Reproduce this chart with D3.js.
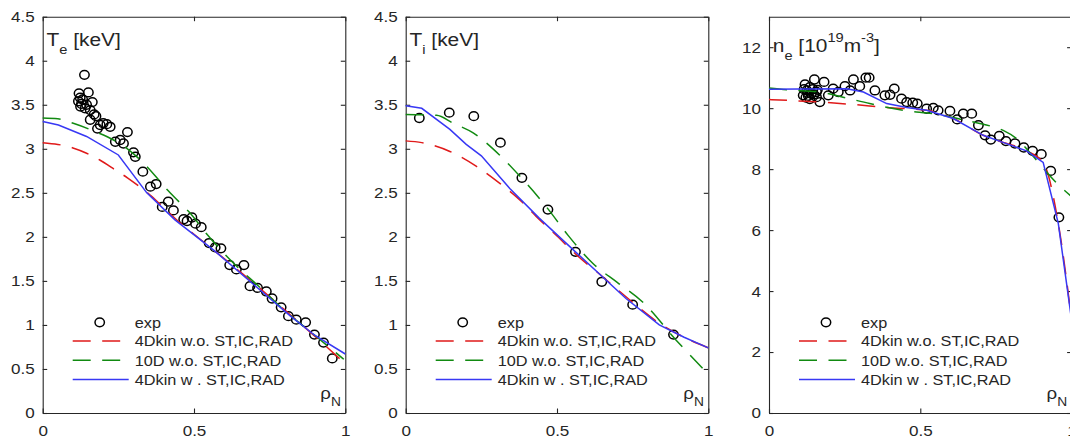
<!DOCTYPE html>
<html>
<head>
<meta charset="utf-8">
<script src="https://cdn.jsdelivr.net/npm/d3@7"></script>
<style>
body { margin: 0; background: #fff; }
svg { display: block; font-family: "Liberation Sans", Arial, sans-serif; }
</style>
</head>
<body>
<div id="chart"></div>
<script>
// ---- DATA ----
// ticks
const rhoTicks = [0, 0.5, 1]
const tempTicks = [0, 0.5, 1, 1.5, 2, 2.5, 3, 3.5, 4, 4.5]
const neTicks = [0, 2, 4, 6, 8, 10, 12]

const legendLabels = ["exp", "4Dkin w.o. ST,IC,RAD", "10D w.o. ST,IC,RAD", "4Dkin w . ST,IC,RAD"]

// Te [keV]: measured points and the three simulations  [rho, value]
const teExp = [[0.138,3.84],[0.120,3.63],[0.151,3.64],[0.124,3.58],[0.118,3.54],[0.132,3.56],[0.164,3.53],
	[0.125,3.48],[0.140,3.46],[0.128,3.51],[0.145,3.50],[0.157,3.44],[0.170,3.39],[0.157,3.33],[0.176,3.37],
	[0.181,3.23],[0.190,3.27],[0.200,3.29],[0.212,3.28],[0.223,3.25],[0.280,3.19],[0.240,3.08],[0.256,3.10],
	[0.267,3.06],[0.300,2.96],[0.306,2.91],[0.331,2.74],[0.356,2.57],[0.375,2.60],[0.395,2.34],[0.415,2.40],
	[0.432,2.30],[0.466,2.20],[0.477,2.18],[0.493,2.22],[0.505,2.15],[0.524,2.11],[0.550,1.93],[0.570,1.88],
	[0.589,1.87],[0.618,1.68],[0.640,1.63],[0.665,1.68],[0.685,1.44],[0.710,1.42],[0.739,1.38],[0.758,1.30],
	[0.788,1.20],[0.812,1.10],[0.838,1.06],[0.869,1.03],[0.898,0.89],[0.928,0.80],[0.957,0.62]]
const te4DkinNoRad = [[0,3.07],[0.05,3.05],[0.10,3.01],[0.145,2.95],[0.19,2.87],[0.24,2.76],[0.28,2.67],
	[0.32,2.57],[0.36,2.46],[0.40,2.33],[0.45,2.17],[0.50,2.03],[0.565,1.85],[0.65,1.61],[0.73,1.38],
	[0.82,1.11],[0.90,0.87],[0.99,0.59]]
const te10DNoRad = [[0,3.35],[0.05,3.34],[0.101,3.29],[0.17,3.20],[0.234,3.10],[0.28,3.00],[0.322,2.875],
	[0.37,2.70],[0.41,2.54],[0.45,2.40],[0.487,2.27],[0.54,2.04],[0.631,1.70],[0.72,1.42],[0.797,1.17],
	[0.90,0.88],[0.995,0.61]]
const te4DkinRad = [[0,3.31],[0.052,3.27],[0.145,3.14],[0.25,2.93],[0.344,2.50],[0.438,2.19],[0.565,1.85],
	[0.70,1.45],[0.819,1.10],[0.90,0.88],[1.0,0.67]]

// Ti [keV]
const tiExp = [[0.045,3.35],[0.144,3.41],[0.225,3.37],[0.313,3.07],[0.384,2.67],[0.470,2.31],[0.561,1.83],
	[0.648,1.49],[0.750,1.23],[0.885,0.89]]
const ti4DkinNoRad = [[0,3.09],[0.053,3.07],[0.146,2.97],[0.234,2.80],[0.31,2.61],[0.377,2.42],[0.432,2.23],
	[0.50,2.01],[0.563,1.80],[0.65,1.55],[0.728,1.32],[0.838,1.02],[0.92,0.86],[1.0,0.74]]
const ti10DNoRad = [[0,3.39],[0.102,3.38],[0.157,3.29],[0.223,3.18],[0.31,2.93],[0.377,2.69],[0.465,2.34],
	[0.536,2.02],[0.618,1.70],[0.70,1.48],[0.783,1.26],[0.893,0.83],[0.992,0.47]]
const ti4DkinRad = [[0,3.49],[0.053,3.46],[0.146,3.22],[0.20,3.05],[0.25,2.92],[0.344,2.55],[0.442,2.21],
	[0.561,1.83],[0.728,1.30],[0.838,1.00],[0.92,0.86],[1.0,0.74]]

// ne [1e19 m^-3]
const neExp = [[0.119,10.78],[0.150,10.94],[0.182,10.86],[0.125,10.58],[0.140,10.47],[0.157,10.53],[0.168,10.20],
	[0.157,10.36],[0.113,10.42],[0.135,10.69],[0.128,10.50],[0.145,10.62],[0.122,10.35],[0.116,10.62],[0.130,10.40],
	[0.148,10.45],[0.135,10.30],[0.160,10.60],[0.212,10.64],[0.196,10.42],[0.229,10.53],[0.251,10.72],[0.268,10.58],
	[0.279,10.94],[0.300,10.72],[0.320,11.00],[0.331,11.00],[0.350,10.58],[0.383,10.42],[0.400,10.44],[0.414,10.64],
	[0.438,10.31],[0.455,10.20],[0.475,10.18],[0.490,10.15],[0.521,9.98],[0.543,10.01],[0.559,9.93],[0.598,9.91],
	[0.622,9.63],[0.642,9.82],[0.670,9.82],[0.692,9.44],[0.714,9.11],[0.733,8.97],[0.761,9.09],[0.783,8.92],
	[0.813,8.84],[0.842,8.71],[0.871,8.60],[0.900,8.49],[0.931,7.94],[0.958,6.42]]
const ne4DkinNoRad = [[0,10.28],[0.168,10.20],[0.279,10.12],[0.389,10.02],[0.521,9.93],[0.609,9.66],[0.708,9.11],
	[0.752,8.95],[0.851,8.60],[0.906,8.22],[0.956,6.22],[1.0,3.05]]
const ne10DNoRad = [[0,10.66],[0.058,10.60],[0.168,10.53],[0.245,10.36],[0.333,10.15],[0.443,9.93],[0.554,9.80],
	[0.642,9.62],[0.736,9.40],[0.774,9.27],[0.818,9.00],[0.873,8.42],[0.95,7.55],[1.0,7.10]]
const ne4DkinRad = [[0,10.62],[0.10,10.63],[0.257,10.64],[0.312,10.53],[0.389,10.15],[0.455,10.02],[0.521,9.93],
	[0.609,9.66],[0.708,9.11],[0.752,8.95],[0.851,8.60],[0.906,8.22],[0.956,6.22],[1.0,3.05]]

// ---- LAYOUT / STYLE ----
const WIDTH = 1070, HEIGHT = 439
const TOP = 16.7, BOTTOM = 413
const PANEL_W = 302.6
const SX = 1.1             // the original raster is a bit stretched sideways
const INK = "#262626"
const LINE_COLORS = ["#e01a1a", "#118a11", "#3838f4"]
const LINE_DASH = ["18,11.5", "18,11.5", null]
const TICK_FONT = 15.5
const LEGEND_FONT = 14.8
const TITLE_FONT = 19

const svg = d3.select("#chart").append("svg")
	.attr("width", WIDTH)
	.attr("height", HEIGHT)

const panels = [
	{ left: 42.7, yMax: 4.5, yTicks: tempTicks, exp: teExp, lines: [te4DkinNoRad, te10DNoRad, te4DkinRad],
	  title: [["T"], ["e", "sub"], [" [keV]"]], titleY: 45.5 },
	{ left: 405.7, yMax: 4.5, yTicks: tempTicks, exp: tiExp, lines: [ti4DkinNoRad, ti10DNoRad, ti4DkinRad],
	  title: [["T"], ["i", "sub"], [" [keV]"]], titleY: 45.5 },
	{ left: 769, yMax: 13, yTicks: neTicks, exp: neExp, lines: [ne4DkinNoRad, ne10DNoRad, ne4DkinRad],
	  title: [["n"], ["e", "sub"], [" [10"], ["19", "sup"], ["m"], ["-3", "sup"], ["]"]], titleY: 51.5 }
]

// text with sub/superscripts, stretched like the original
function richText(g, x, y, parts, size, anchor) {
	const t = g.append("text")
		.attr("transform", `translate(${x},${y}) scale(${SX},1)`)
		.attr("fill", INK)
		.attr("font-size", size)
		.attr("text-anchor", anchor || "start")
	let shift = 0
	parts.forEach(([s, kind]) => {
		const target = kind === "sub" ? 8 : kind === "sup" ? -10 : 0
		t.append("tspan")
			.attr("font-size", kind ? size * 0.7 : size)
			.attr("dy", target - shift)
			.text(s)
		shift = target
	})
	return t
}

panels.forEach(p => {
	const g = svg.append("g")
	const x = d3.scaleLinear().domain([0, 1]).range([p.left, p.left + PANEL_W])
	const y = d3.scaleLinear().domain([0, p.yMax]).range([BOTTOM, TOP])

	// box with inward ticks on all four sides
	const bottomAxis = g.append("g").attr("transform", `translate(0,${BOTTOM})`)
		.call(d3.axisBottom(x).tickValues(rhoTicks).tickSizeInner(-4.5).tickSizeOuter(0)
			.tickPadding(12).tickFormat(d3.format("~g")))
	g.append("g").attr("transform", `translate(0,${TOP})`)
		.call(d3.axisTop(x).tickValues(rhoTicks).tickSizeInner(-4.5).tickSizeOuter(0).tickFormat(""))
	const leftAxis = g.append("g").attr("transform", `translate(${p.left},0)`)
		.call(d3.axisLeft(y).tickValues(p.yTicks).tickSizeInner(-4.5).tickSizeOuter(0)
			.tickPadding(8).tickFormat(d3.format("~g")))
	g.append("g").attr("transform", `translate(${p.left + PANEL_W},0)`)
		.call(d3.axisRight(y).tickValues(p.yTicks).tickSizeInner(-4.5).tickSizeOuter(0).tickFormat(""))

	g.selectAll(".domain, .tick line").attr("stroke", INK).attr("stroke-width", 1.1)
	g.selectAll(".tick text").attr("fill", INK).attr("font-size", TICK_FONT)
		.attr("font-family", "Liberation Sans, Arial, sans-serif")
	bottomAxis.selectAll("text").attr("transform", `scale(${SX},1)`)
	leftAxis.selectAll("text").attr("x", -8 / SX).attr("transform", `scale(${SX},1)`)

	// measured points
	g.selectAll("ellipse").data(p.exp).enter().append("ellipse")
		.attr("cx", d => x(d[0]))
		.attr("cy", d => y(d[1]))
		.attr("rx", 4.7).attr("ry", 4.4)
		.attr("fill", "none")
		.attr("stroke", "#000")
		.attr("stroke-width", 1.5)

	// simulations
	p.lines.forEach((data, i) => {
		const line = d3.line()
			.x(d => x(d[0]))
			.y(d => y(d[1]))
			.curve(i === 2 ? d3.curveLinear : d3.curveMonotoneX)
		g.append("path")
			.datum(data)
			.attr("d", line)
			.attr("fill", "none")
			.attr("stroke", LINE_COLORS[i])
			.attr("stroke-width", 1.5)
			.attr("stroke-dasharray", LINE_DASH[i])
	})

	// quantity label inside the box, top left
	richText(g, p.left + 3.8, p.titleY, p.title, TITLE_FONT)

	// rho_N at the bottom right
	richText(g, p.left + PANEL_W - 4.5, 398.5, [["\u03c1"], ["N", "sub"]], 17, "end")
		.selectAll("tspan").filter((d, i) => i === 1).attr("dy", 7.3).attr("font-size", 12.5)

	// legend (no box)
	const lg = g.append("g")
	const rowY = [322.3, 341, 360.3, 379.6]
	lg.append("ellipse")
		.attr("cx", p.left + 57).attr("cy", rowY[0])
		.attr("rx", 4.7).attr("ry", 4.4)
		.attr("fill", "none").attr("stroke", "#000").attr("stroke-width", 1.5)
	LINE_COLORS.forEach((c, i) => {
		lg.append("line")
			.attr("x1", p.left + 30).attr("x2", p.left + 86)
			.attr("y1", rowY[i + 1]).attr("y2", rowY[i + 1])
			.attr("stroke", c).attr("stroke-width", 1.5)
			.attr("stroke-dasharray", LINE_DASH[i])
	})
	legendLabels.forEach((s, i) => {
		richText(lg, p.left + 92, rowY[i] + 5.3, [[s]], LEGEND_FONT)
	})
})
</script>
</body>
</html>
